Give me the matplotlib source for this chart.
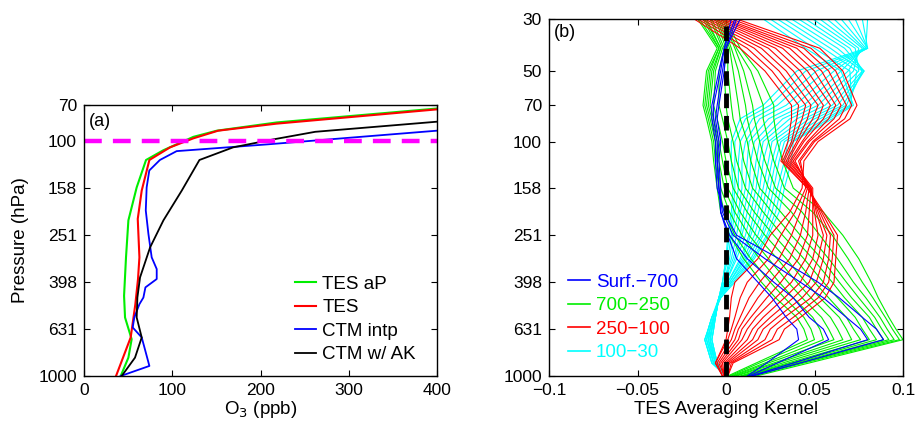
import numpy as np
import matplotlib.pyplot as plt

plt.rcParams['font.family'] = ['Liberation Sans', 'DejaVu Sans']
plt.rcParams['font.size'] = 12.5

# ---- panel (a): ozone profiles (ppb) vs pressure (hPa)
tes_ap_p = [1000, 835, 697, 563, 455, 312, 217, 157, 120, 109, 95.6, 90, 83, 72.4]
tes_ap = [41.6, 50.3, 54, 46.5, 45.4, 47.6, 50.3, 59.7, 70.3, 90, 124, 150.5, 218.5, 400]

tes_p = [1000, 685, 494, 386, 312, 214, 162, 120, 106, 97, 90, 84, 73]
tes = [36.3, 52.9, 58.2, 61.2, 62.8, 60.9, 65.4, 74.1, 97.5, 124, 152, 218, 400]

ctm_p = [1000, 906, 744, 685, 621, 563, 494, 463, 419, 386, 350, 312, 248, 197, 157,
         133, 120, 110, 103, 90]
ctm = [41.6, 74.1, 68, 65.4, 55.2, 57, 62.8, 67.3, 69.6, 82.4, 82.4, 76.7, 73, 70, 71,
       74, 86, 105, 207, 400]

ctm_ak_p = [1000, 835, 685, 563, 463, 380, 283, 217, 162, 120, 106, 98, 91, 82.4]
ctm_ak = [42.7, 57.8, 65.4, 59.7, 60.5, 63.5, 74.9, 90, 110.8, 130.8, 169, 214.7, 262, 400]

# ---- panel (b): averaging kernel curves, values x 1e-3, one row per curve
ak_lev = [1000, 880, 700, 631, 562, 464, 398, 316, 251, 200, 158, 121, 100, 80, 70, 50, 40, 30]

ak_blue = [
    [12, 23, 41, 40, 34, 26, 18, 6, 1, -3, -3, -4, -3, -5, -4, -1, 0, 8],
    [13, 29, 58, 55, 47, 38, 27, 12, 2, -3, -4, -5, -4, -6, -5, -2, 0, 6],
    [14, 38, 80, 76, 68, 55, 42, 22, 4, -2, -4, -5, -5, -7, -7, -3, -1, 5],
    [15, 42, 89, 85, 77, 64, 52, 30, 6, -1, -5, -6, -6, -8, -8, -4, -1, 3],
]

ak_green = [
    [1, 17, 46, 44, 40, 28, 20, 10, 2, -3, -5, -7, -8, -11, -13, -11, -5, -16],
    [2, 19, 50, 48, 44, 33, 25, 14, 5, -1, -4, -6, -7, -10, -12, -10, -4, -15],
    [3, 22, 55, 53, 49, 38, 30, 19, 9, 2, -3, -5, -6, -9, -11, -9, -4, -13],
    [4, 24, 61, 58, 54, 43, 35, 24, 13, 5, -1, -4, -5, -8, -10, -8, -3, -12],
    [5, 27, 66, 63, 59, 48, 40, 29, 17, 8, 1, -2, -4, -7, -9, -7, -3, -11],
    [6, 29, 71, 68, 64, 53, 45, 34, 22, 12, 4, 0, -2, -5, -7, -6, -2, -9],
    [8, 32, 76, 72, 68, 58, 50, 39, 27, 16, 7, 3, 1, -2, -4, -4, -1, -8],
    [9, 35, 81, 77, 73, 63, 55, 44, 32, 21, 11, 6, 4, 1, 0, -1, 0, -6],
    [10, 37, 85, 81, 77, 67, 60, 49, 37, 26, 15, 10, 8, 4, 3, 1, 1, -5],
    [11, 39, 89, 85, 81, 71, 64, 54, 42, 31, 19, 14, 12, 8, 7, 4, 2, -4],
    [12, 41, 92, 88, 84, 75, 68, 58, 47, 37, 24, 18, 15, 12, 11, 7, 3, -3],
    [13, 42, 95, 91, 87, 79, 72, 63, 53, 43, 28, 22, 19, 16, 15, 10, 5, -2],
    [15, 44, 98, 94, 90, 83, 77, 69, 60, 49, 33, 27, 24, 21, 21, 14, 6, -1],
    [17, 47, 100, 96, 92, 86, 82, 75, 66, 55, 38, 32, 29, 27, 27, 18, 8, 0],
]

ak_red = [
    [1, 4, 30, 33, 42, 56, 61, 62, 63, 55, 46, 31, 35, 37, 37, 22, 8, -18],
    [1, 3, 26, 29, 38, 52, 58, 60, 61, 54, 46, 32, 37, 40, 41, 26, 12, -16],
    [0, 2, 22, 25, 33, 48, 55, 58, 59, 53, 47, 33, 38, 43, 45, 30, 16, -14],
    [0, 1, 18, 21, 29, 43, 51, 55, 57, 52, 47, 34, 40, 46, 48, 34, 20, -12],
    [0, 0, 15, 18, 25, 38, 47, 52, 55, 51, 48, 35, 41, 49, 52, 38, 24, -10],
    [-1, -1, 12, 15, 21, 33, 42, 49, 52, 50, 48, 36, 43, 52, 55, 42, 28, -8],
    [-1, -2, 9, 12, 17, 28, 37, 45, 49, 49, 49, 37, 44, 55, 59, 46, 32, -6],
    [-1, -3, 7, 9, 14, 23, 31, 41, 46, 47, 48, 38, 46, 58, 62, 50, 36, -4],
    [-1, -4, 5, 7, 11, 18, 25, 36, 42, 45, 47, 39, 47, 61, 65, 54, 40, -2],
    [-2, -5, 3, 5, 8, 13, 19, 30, 37, 42, 46, 41, 49, 64, 68, 58, 44, 0],
    [-2, -6, 1, 3, 5, 8, 12, 24, 31, 39, 45, 42, 50, 67, 71, 62, 48, 3],
    [-2, -6, 0, 1, 2, 3, 5, 18, 25, 36, 43, 44, 52, 70, 74, 66, 53, 6],
]

ak_cyan = [
    [0, -8, -12, -10, -8, -3, 5, 16, 24, 30, 33, 37, 38, 60, 72, 65, 45, 21],
    [0, -8, -12, -10, -8, -3, 4, 15, 23, 28, 31, 35, 37, 58, 71, 70, 50, 25],
    [0, -8, -12, -10, -8, -3, 3, 14, 21, 26, 29, 33, 35, 56, 70, 74, 55, 29],
    [0, -7, -11, -10, -8, -4, 3, 12, 20, 24, 27, 30, 33, 53, 68, 77, 59, 33],
    [0, -7, -11, -9, -7, -4, 2, 11, 18, 22, 25, 28, 31, 50, 66, 78, 63, 37],
    [0, -7, -11, -9, -7, -4, 2, 10, 16, 20, 23, 26, 29, 47, 63, 78, 67, 41],
    [0, -7, -10, -9, -7, -4, 1, 9, 14, 18, 21, 24, 26, 44, 60, 77, 70, 45],
    [0, -6, -10, -9, -7, -4, 1, 8, 13, 16, 19, 21, 24, 40, 56, 75, 73, 49],
    [0, -6, -10, -8, -7, -4, 0, 6, 11, 14, 17, 19, 21, 36, 52, 72, 75, 53],
    [0, -6, -9, -8, -7, -4, 0, 5, 9, 12, 15, 17, 19, 32, 48, 69, 77, 57],
    [0, -6, -9, -8, -6, -4, -1, 4, 8, 10, 13, 14, 16, 28, 44, 65, 78, 61],
    [0, -6, -9, -8, -6, -4, -1, 3, 6, 8, 11, 12, 13, 24, 39, 61, 79, 65],
    [0, -5, -9, -8, -6, -4, -1, 2, 4, 7, 9, 9, 11, 19, 34, 56, 80, 69],
    [0, -5, -8, -7, -6, -4, -2, 1, 3, 5, 7, 7, 8, 15, 29, 51, 80, 73],
    [0, -5, -8, -7, -6, -4, -2, 0, 2, 4, 5, 5, 5, 11, 25, 45, 80, 77],
    [0, -5, -8, -7, -6, -4, -2, 0, 1, 3, 4, 3, 3, 8, 21, 40, 79, 80],
]

group_labels = ['Surf.\u2212700', '700\u2212250', '250\u2212100', '100\u221230']
group_colors = ['#0000ff', '#00ee00', '#ff0000', '#00ffff']

fig = plt.figure(figsize=(9.15, 4.22), dpi=100)
ax1 = fig.add_axes([0.0918, 0.109, 0.3858, 0.642])
ax2 = fig.add_axes([0.600, 0.109, 0.3869, 0.846])

# panel (a)
ax1.plot(tes_ap, tes_ap_p, color='#00ee00', lw=1.5, label='TES aP')
ax1.plot(tes, tes_p, color='#ff0000', lw=1.5, label='TES')
ax1.plot(ctm, ctm_p, color='#0000ff', lw=1.3, label='CTM intp')
ax1.plot(ctm_ak, ctm_ak_p, color='black', lw=1.3, label='CTM w/ AK')
ax1.plot([0, 400], [100, 100], color='#ff00ff', lw=3.2, dashes=(4, 2.5))
ax1.set_yscale('log')
ax1.set_ylim(1000, 70)
ax1.set_xlim(0, 400)
ax1.set_yticks([70, 100, 158, 251, 398, 631, 1000])
ax1.set_yticklabels(['70', '100', '158', '251', '398', '631', '1000'])
ax1.yaxis.set_minor_locator(plt.NullLocator())
ax1.set_xticks([0, 100, 200, 300, 400])
ax1.set_ylabel('Pressure (hPa)', labelpad=7, fontsize=13.5)
ax1.set_xlabel('O$_3$ (ppb)', labelpad=1, fontsize=13.5)
ax1.text(0.015, 0.97, '(a)', transform=ax1.transAxes, ha='left', va='top', fontsize=13)
ax1.legend(loc='lower right', frameon=False, fontsize=13.5, handlelength=1.17,
           handletextpad=0.32, labelspacing=0.34, borderaxespad=0,
           bbox_to_anchor=(0.962, 0.02))

# panel (b): draw the upper groups first so the low-level kernels sit on top
groups = [ak_blue, ak_green, ak_red, ak_cyan]
handles = [None] * 4
for g in [3, 1, 2, 0]:
    for i, row in enumerate(groups[g]):
        ln, = ax2.plot(np.array(row) / 1000.0, ak_lev, color=group_colors[g], lw=0.8)
        if i == 0:
            handles[g] = ln
ax2.plot([0, 0], [1000, 30], color='black', lw=3.5, dashes=(3.0, 1.6))
ax2.set_yscale('log')
ax2.set_ylim(1000, 30)
ax2.set_xlim(-0.1, 0.1)
ax2.set_yticks([30, 50, 70, 100, 158, 251, 398, 631, 1000])
ax2.set_yticklabels(['30', '50', '70', '100', '158', '251', '398', '631', '1000'])
ax2.yaxis.set_minor_locator(plt.NullLocator())
ax2.set_xticks([-0.1, -0.05, 0, 0.05, 0.1])
ax2.set_xticklabels(['\u22120.1', '\u22120.05', '0', '0.05', '0.1'])
ax2.set_xlabel('TES Averaging Kernel', labelpad=2, fontsize=13.5)
ax2.text(0.015, 0.985, '(b)', transform=ax2.transAxes, ha='left', va='top', fontsize=13)
leg = ax2.legend(handles, group_labels, loc='lower left', frameon=False, fontsize=13.5,
                 handlelength=1.17, handletextpad=0.32, labelspacing=0.34,
                 borderaxespad=0, bbox_to_anchor=(0.032, 0.02))
for txt, col in zip(leg.get_texts(), group_colors):
    txt.set_color(col)
for ln in leg.get_lines():
    ln.set_linewidth(1.2)

for ax in (ax1, ax2):
    ax.tick_params(direction='in', top=True, right=True, length=4, width=0.8, pad=5)
    for s in ax.spines.values():
        s.set_linewidth(1.0)

fig.savefig('out.png', dpi=100)
